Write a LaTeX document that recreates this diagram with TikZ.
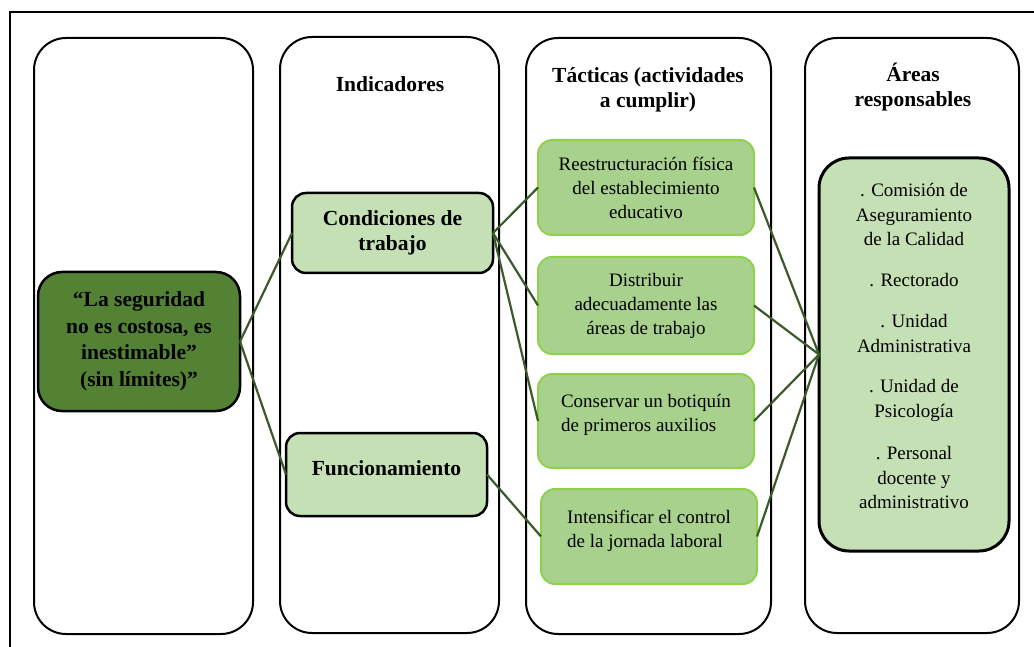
\documentclass[tikz,border=0pt]{standalone}
\usepackage{fontspec}
\setmainfont{Liberation Serif}
\definecolor{darkg}{HTML}{548235}
\definecolor{lightg}{HTML}{C5E0B4}
\definecolor{midg}{HTML}{A9D18E}
\definecolor{midborder}{HTML}{8FD14F}
\definecolor{linkg}{HTML}{3A5A28}
\tikzset{
  column/.style={draw=black, line width=2pt, rounded corners=32pt},
  mainbox/.style={draw=black, line width=2.5pt, fill=darkg, rounded corners=24pt, outer sep=0pt,
    align=center, font=\fontsize{21.5}{26.5}\selectfont\bfseries},
  indbox/.style={draw=black, line width=2.5pt, fill=lightg, rounded corners=14pt, outer sep=0pt,
    align=center, font=\fontsize{21.5}{25}\selectfont\bfseries},
  tacbox/.style={draw=midborder, line width=2pt, fill=midg, rounded corners=14pt, outer sep=0pt,
    align=center, font=\fontsize{19}{24}\selectfont},
  areabox/.style={draw=black, line width=3pt, fill=lightg, rounded corners=30pt, outer sep=0pt,
    align=center, font=\fontsize{19}{24.5}\selectfont},
  title/.style={align=center, font=\fontsize{21.5}{25}\selectfont\bfseries},
  link/.style={draw=linkg, line width=2.2pt},
}
\begin{document}
\begin{tikzpicture}[x=1pt, y=-1pt]
\useasboundingbox (0,0) rectangle (1034,647);
% outer frame (cut off at right and bottom)
\draw[line width=1.5pt] (10,647) -- (10,12) -- (1034,12);
% columns
\draw[column] (34,38) rectangle (253,634);
\draw[column] (280,37) rectangle (499,633);
\draw[column] (526,38) rectangle (771,634);
\draw[column] (805,38) rectangle (1019,633);
% titles
\node[title] (t2) at (390,84) {Indicadores};
\node[title] (t3) at (648,89.5) {Tácticas (actividades\\a cumplir)};
\node[title] (t4) at (913,87.5) {Áreas\\responsables};
% main
\node[mainbox, minimum width=202pt, minimum height=139pt] (main) at (139,341.5)
  {“La seguridad\\no es costosa, es\\inestimable”\\(sin límites)”};
% indicators
\node[indbox, minimum width=201pt, minimum height=80pt] (cond) at (392.5,233)
  {Condiciones de\\trabajo};
\node[indbox, minimum width=201pt, minimum height=83pt] (func) at (386.5,474.5)
  {Funcionamiento\\[-12pt]\mbox{}};
% tactics
\node[tacbox, minimum width=216pt, minimum height=95pt] (ta) at (646,187.5)
  {Reestructuración física\\del establecimiento\\educativo};
\node[tacbox, minimum width=216pt, minimum height=97pt] (tb) at (646,305.5)
  {Distribuir\\adecuadamente las\\áreas de trabajo};
\node[tacbox, align=left, minimum width=216pt, minimum height=94pt] (tc) at (646,421)
  {Conservar un botiquín\\de primeros auxilios\\[-8pt]\mbox{}};
\node[tacbox, align=left, minimum width=216pt, minimum height=95pt] (td) at (649,536.5)
  {Intensificar el control\\de la jornada laboral\\[-8pt]\mbox{}};
% areas
\node[areabox, minimum width=190pt, minimum height=393pt] (areas) at (914,354.5)
  {. Comisión de\\Aseguramiento\\de la Calidad\\[16.5pt]
   . Rectorado\\[16.5pt]
   . Unidad\\Administrativa\\[16pt]
   . Unidad de\\Psicología\\[18pt]
   . Personal\\docente y\\administrativo\\[-8pt]\mbox{}};
% connectors
\draw[link] (main.east) -- (cond.west);
\draw[link] (main.east) -- (func.west);
\draw[link] (cond.east) -- (ta.west);
\draw[link] (cond.east) -- (tb.west);
\draw[link] (cond.east) -- (tc.west);
\draw[link] (func.east) -- (td.west);
\draw[link] (ta.east) -- (areas.west);
\draw[link] (tb.east) -- (areas.west);
\draw[link] (tc.east) -- (areas.west);
\draw[link] (td.east) -- (areas.west);
\end{tikzpicture}
\end{document}
